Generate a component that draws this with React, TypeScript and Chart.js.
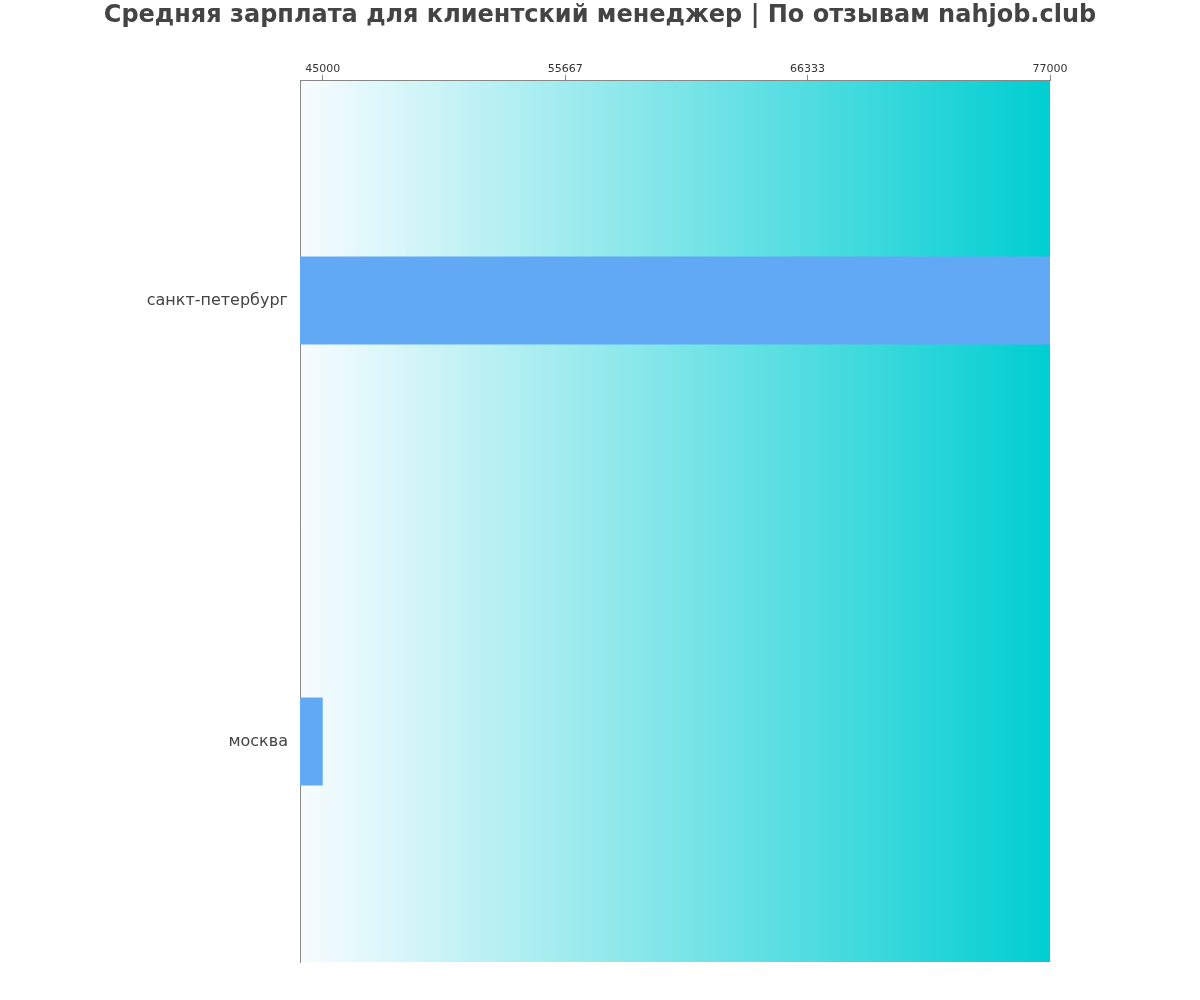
import { useEffect, useRef } from 'react'
import { Chart, registerables } from 'chart.js'

Chart.register(...registerables)

const cities = ['санкт-петербург', 'москва']
const salaries = [77000, 45000]
const tickValues = [45000, 55667, 66333, 77000]

const TITLE = 'Средняя зарплата для клиентский менеджер | По отзывам nahjob.club'
const FONT = '"DejaVu Sans", sans-serif'

// paints the left-to-right turquoise fade behind everything else
const gradientBackground = {
  id: 'gradientBackground',
  beforeDraw(chart: Chart) {
    const { ctx, chartArea } = chart
    if (!chartArea) return
    const grad = ctx.createLinearGradient(chartArea.left, 0, chartArea.right, 0)
    grad.addColorStop(0, '#F8FCFF')
    grad.addColorStop(1, '#00CED1')
    ctx.save()
    ctx.fillStyle = grad
    ctx.fillRect(chartArea.left, chartArea.top, chartArea.right - chartArea.left, chartArea.bottom - chartArea.top)
    ctx.restore()
  }
}

// title centred on the whole canvas, not on the padded layout box
const pageTitle = {
  id: 'pageTitle',
  afterDraw(chart: Chart) {
    const { ctx, width } = chart
    ctx.save()
    ctx.font = `bold 24px ${FONT}`
    ctx.fillStyle = '#444444'
    ctx.textAlign = 'center'
    ctx.textBaseline = 'middle'
    ctx.fillText(TITLE, width / 2, 16)
    ctx.restore()
  }
}

export default function App() {
  const canvasRef = useRef<HTMLCanvasElement>(null)
  const chartRef = useRef<Chart | null>(null)

  useEffect(() => {
    if (!canvasRef.current) return
    if (chartRef.current) chartRef.current.destroy()

    const ctx = canvasRef.current.getContext('2d')
    if (!ctx) return

    chartRef.current = new Chart(ctx, {
      type: 'bar',
      data: {
        labels: cities,
        datasets: [
          {
            label: 'Зарплата',
            data: salaries,
            backgroundColor: '#62A9F5',
            borderWidth: 0,
            barPercentage: 0.2,
            categoryPercentage: 1
          }
        ]
      },
      options: {
        indexAxis: 'y',
        animation: false,
        responsive: false,
        maintainAspectRatio: false,
        layout: {
          padding: { left: 0, right: 150, top: 40, bottom: 38 }
        },
        plugins: {
          legend: { display: false },
          tooltip: { enabled: false },
          title: { display: false }
        },
        scales: {
          x: {
            position: 'top',
            min: 44000,
            max: 77000,
            afterBuildTicks(scale: any) {
              scale.ticks = tickValues.map((v) => ({ value: v }))
            },
            afterFit(scale: any) {
              scale.height = 40
            },
            grid: {
              drawOnChartArea: false,
              drawTicks: true,
              tickLength: 5,
              color: '#888888'
            },
            border: { display: true, color: '#888888', width: 1 },
            ticks: {
              padding: -1,
              color: '#333333',
              font: { family: FONT, size: 11 },
              maxRotation: 0,
              callback: (value: any) => String(value)
            }
          },
          y: {
            afterFit(scale: any) {
              scale.width = 300
            },
            grid: { display: true, drawOnChartArea: false, drawTicks: false },
            border: { display: true, color: '#888888', width: 1 },
            ticks: {
              padding: 12,
              color: '#444444',
              font: { family: FONT, size: 16 }
            }
          }
        }
      },
      plugins: [gradientBackground, pageTitle]
    })

    return () => {
      if (chartRef.current) chartRef.current.destroy()
      chartRef.current = null
    }
  }, [])

  return (
    <div style={{ position: 'fixed', left: 0, top: 0, width: 1200, height: 1000, background: '#fff' }}>
      <canvas ref={canvasRef} width={1200} height={1000} style={{ width: 1200, height: 1000 }} />
    </div>
  )
}
